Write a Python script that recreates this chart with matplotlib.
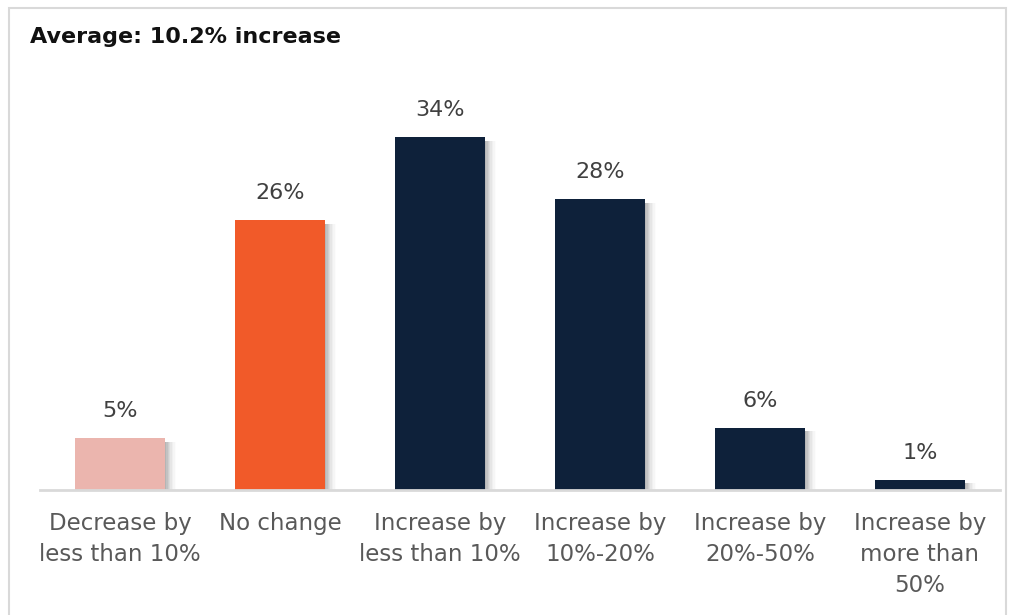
import matplotlib
matplotlib.use('Agg')
import matplotlib.pyplot as plt
from matplotlib.patches import Rectangle

categories = ['Decrease by\nless than 10%', 'No change', 'Increase by\nless than 10%',
              'Increase by\n10%-20%', 'Increase by\n20%-50%', 'Increase by\nmore than\n50%']
values = [5, 26, 34, 28, 6, 1]
colors = ['#EBB5AE', '#F15A29', '#0E213A', '#0E213A', '#0E213A', '#0E213A']

plt.rcParams['font.family'] = ['DejaVu Sans']

W, H = 1010, 615
fig = plt.figure(figsize=(W / 100, H / 100), dpi=100, facecolor='white')

# outer frame
fig.patches.append(Rectangle((9 / W, -0.05), 997 / W, 1.05 - 8 / H, transform=fig.transFigure,
                             fill=False, edgecolor='#d9d9d9', linewidth=1.5))

ax = fig.add_axes([40 / W, 125 / H, 960 / W, 410 / H])
x = list(range(len(values)))
width = 0.5625

# soft shadow to the right of each bar
for i in range(8):
    off = 0.0085 * (i + 1)
    ax.bar([xi + off for xi in x], [max(v - 0.35, 0) for v in values], width=width,
           color='#707070', alpha=0.14 * (1 - i / 8), linewidth=0, zorder=1)
ax.bar(x, values, width=width, color=colors, linewidth=0, zorder=2)

for xi, v in zip(x, values):
    ax.text(xi, v + 2.6, f'{v}%', ha='center', va='center', fontsize=16, color='#404040')

ax.set_xlim(-0.5, 5.5)
ax.set_ylim(0, 39.5)
ax.set_xticks(x)
ax.set_xticklabels(categories, fontsize=16.5, color='#595959', linespacing=1.45)
ax.tick_params(axis='x', length=0, pad=16)
ax.set_yticks([])
for s in ['top', 'right', 'left']:
    ax.spines[s].set_visible(False)
ax.spines['bottom'].set_color('#d9d9d9')
ax.spines['bottom'].set_linewidth(2)
ax.spines['bottom'].set_zorder(3)

fig.text(30 / W, 1 - 37 / H, 'Average: 10.2% increase', fontsize=16, fontweight='bold',
         color='#111111', ha='left', va='center')

fig.savefig('out.png', dpi=100, facecolor='white')
